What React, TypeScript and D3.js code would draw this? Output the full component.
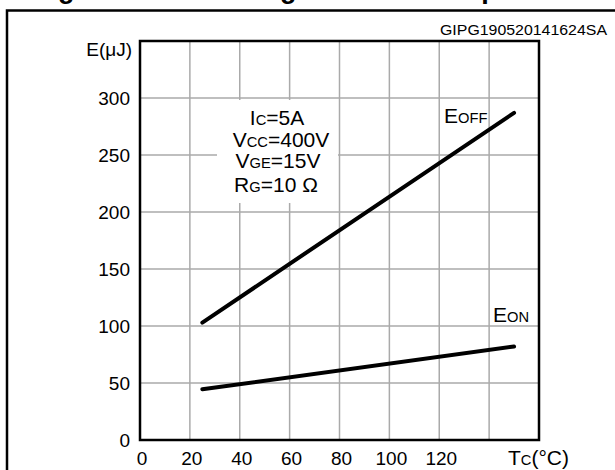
import React from 'react';
import * as d3 from 'd3';

// values
const tempC = [25, 150];
const eOff = [103, 287];
const eOn = [44.5, 82];
const xTicks = [0, 20, 40, 60, 80, 100, 120];
const xGrid = [20, 40, 60, 80, 100, 120, 140];
const yTicks = [0, 50, 100, 150, 200, 250, 300];
const yGrid = [50, 100, 150, 200, 250, 300];

const W = 615;
const H = 470;
const font = '"Liberation Sans", Arial, sans-serif';

const App: React.FC = () => {
  const x = d3.scaleLinear().domain([0, 160]).range([140, 539]);
  const y = d3.scaleLinear().domain([0, 350]).range([440, 41]);

  const line = d3
    .line<number>()
    .x((_, i) => x(tempC[i]))
    .y((d) => y(d));

  const sub = 14.7;

  return (
    <svg
      width={W}
      height={H}
      style={{ position: 'absolute', left: 0, top: 0, background: '#fff' }}
      fontFamily={font}
    >
      <rect x={0} y={0} width={W} height={H} fill="#fff" />
      {/* clipped title above the frame */}
      <text x={34} y={-2} fontSize={27} fontWeight="bold" fill="#000">
        Figure 13. Switching losses vs temperature
      </text>
      {/* outer frame */}
      <rect x={7} y={10.5} width={700} height={600} fill="none" stroke="#000" strokeWidth={2.5} />

      <text x={607} y={35} fontSize={14} textAnchor="end" textLength={167} lengthAdjust="spacingAndGlyphs" fill="#000">
        GIPG190520141624SA
      </text>

      {/* grid */}
      {xGrid.map((t) => (
        <line key={'gx' + t} x1={x(t)} x2={x(t)} y1={y(350)} y2={y(0)} stroke="#aaa" strokeWidth={1.5} />
      ))}
      {yGrid.map((t) => (
        <line key={'gy' + t} x1={x(0)} x2={x(160)} y1={y(t)} y2={y(t)} stroke="#aaa" strokeWidth={1.5} />
      ))}

      {/* condition box */}
      <rect x={217} y={100} width={121} height={103} fill="#fff" />
      <g fontSize={21} textAnchor="middle" fill="#000">
        <text x={277} y={125}>
          I<tspan fontSize={sub}>C</tspan>=5A
        </text>
        <text x={281} y={147}>
          V<tspan fontSize={sub}>CC</tspan>=400V
        </text>
        <text x={278} y={168}>
          V<tspan fontSize={sub}>GE</tspan>=15V
        </text>
        <text x={276} y={192}>
          R<tspan fontSize={sub}>G</tspan>=10 Ω
        </text>
      </g>

      {/* plot border */}
      <rect x={x(0)} y={y(350)} width={x(160) - x(0)} height={y(0) - y(350)} fill="none" stroke="#000" strokeWidth={2.5} />

      {/* curves */}
      <path d={line(eOff) || ''} fill="none" stroke="#000" strokeWidth={4} strokeLinecap="round" />
      <path d={line(eOn) || ''} fill="none" stroke="#000" strokeWidth={4} strokeLinecap="round" />

      <text x={444} y={123} fontSize={21} fill="#000">
        E<tspan fontSize={sub}>OFF</tspan>
      </text>
      <text x={493} y={322} fontSize={21} fill="#000">
        E<tspan fontSize={sub}>ON</tspan>
      </text>

      {/* y ticks */}
      {yTicks.map((t) => (
        <text key={'yt' + t} x={130} y={y(t)} dy="0.35em" fontSize={19} textAnchor="end" fill="#000">
          {t}
        </text>
      ))}
      <text x={132} y={56} fontSize={19} textAnchor="end" fill="#000">
        E(μJ)
      </text>

      {/* x ticks */}
      {xTicks.map((t) => (
        <text key={'xt' + t} x={x(t) + 2} y={465} fontSize={19} textAnchor="middle" fill="#000">
          {t}
        </text>
      ))}
      <text x={508} y={465} fontSize={21} fill="#000">
        T<tspan fontSize={sub}>C</tspan>(°C)
      </text>
    </svg>
  );
};

export default App;
